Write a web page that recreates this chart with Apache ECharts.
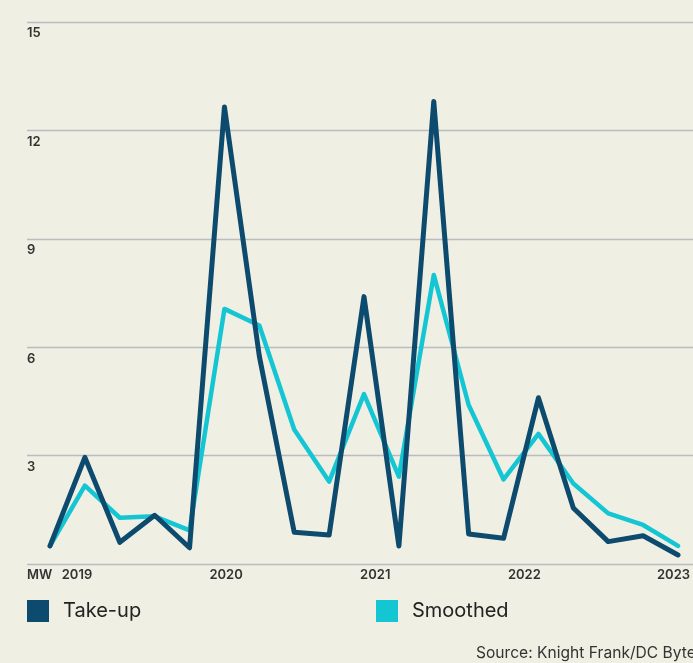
<!DOCTYPE html>
<html>
<head>
<meta charset="utf-8">
<style>
  html, body { margin: 0; padding: 0; background: #f0efe3; }
  #chart { width: 693px; height: 663px; }
</style>
<script src="https://cdn.jsdelivr.net/npm/echarts@6/dist/echarts.min.js"></script>
</head>
<body>
<div id="chart"></div>
<script>
// Quarterly data-centre take-up (MW)
const quarters = [
  '2019 Q1', '2019 Q2', '2019 Q3', '2019 Q4',
  '2020 Q1', '2020 Q2', '2020 Q3', '2020 Q4',
  '2021 Q1', '2021 Q2', '2021 Q3', '2021 Q4',
  '2022 Q1', '2022 Q2', '2022 Q3', '2022 Q4',
  '2023 Q1', '2023 Q2', '2023 Q3'
];
const takeUp = [0.5, 2.95, 0.6, 1.35, 0.45, 12.65, 5.75, 0.88, 0.8, 7.4, 0.5, 12.8, 0.83, 0.71, 4.6, 1.55, 0.62, 0.78, 0.25];
const smoothed = [0.5, 2.17, 1.28, 1.32, 0.93, 7.06, 6.6, 3.72, 2.28, 4.7, 2.42, 8.0, 4.4, 2.34, 3.6, 2.23, 1.4, 1.08, 0.5];
const yearTicks = [2019, 2020, 2021, 2022, 2023];
const yTicks = [0, 3, 6, 9, 12, 15];
const unitLabel = 'MW';
const sourceText = 'Source: Knight Frank/DC Bytes';

const NAVY = '#0c4a6e';
const CYAN = '#14c6d3';
const FONT = 'Inter, "Liberation Sans", sans-serif';
const TXT = '#333333';

const chart = echarts.init(document.getElementById('chart'), null, { renderer: 'canvas' });

chart.setOption({
  animation: false,
  backgroundColor: '#f0efe3',
  textStyle: { fontFamily: FONT },
  title: {
    text: sourceText,
    left: 476,
    top: 645,
    padding: 0,
    textStyle: { fontFamily: FONT, fontSize: 15.6, fontWeight: 400, color: TXT }
  },
  legend: [
    {
      data: ['Take-up'],
      left: 27, top: 600, padding: 0,
      icon: 'rect', itemWidth: 22, itemHeight: 22,
      textStyle: { fontFamily: FONT, fontSize: 20, color: '#222', padding: [0, 0, 0, 9] }
    },
    {
      data: ['Smoothed'],
      left: 376, top: 600, padding: 0,
      icon: 'rect', itemWidth: 22, itemHeight: 22,
      textStyle: { fontFamily: FONT, fontSize: 20, color: '#222', padding: [0, 0, 0, 9] }
    }
  ],
  grid: [
    // value gridlines and labels
    { left: 27, right: 0, top: 22, bottom: 99 },
    // plotted series
    { left: 50, right: 15, top: 22, bottom: 99 },
    // year labels
    { left: 77, right: 16, top: 22, bottom: 99 }
  ],
  xAxis: [
    { gridIndex: 0, type: 'value', min: 0, max: 1, show: false },
    { gridIndex: 1, type: 'category', data: quarters, boundaryGap: false, show: false },
    {
      gridIndex: 2, type: 'value', min: yearTicks[0], max: yearTicks[yearTicks.length - 1], interval: 1,
      axisLine: { show: false }, axisTick: { show: false }, splitLine: { show: false },
      axisLabel: {
        margin: 5, fontFamily: FONT, fontSize: 13, fontWeight: 600, color: TXT,
        formatter: v => String(v)
      }
    }
  ],
  yAxis: [
    {
      gridIndex: 0, type: 'value', min: yTicks[0], max: yTicks[yTicks.length - 1], interval: 3,
      axisLine: { show: false }, axisTick: { show: false },
      splitLine: { show: true, lineStyle: { color: '#b8bbbf', width: 1.3 } },
      axisLabel: {
        inside: true, margin: 0, verticalAlign: 'top', padding: [5, 0, 0, 0],
        fontFamily: FONT, fontSize: 13, fontWeight: 600, color: TXT,
        formatter: v => (v === 0 ? unitLabel : String(v))
      }
    },
    { gridIndex: 1, type: 'value', min: yTicks[0], max: yTicks[yTicks.length - 1], show: false },
    { gridIndex: 2, type: 'value', min: 0, max: 1, show: false }
  ],
  series: [
    {
      name: 'Smoothed', type: 'line', xAxisIndex: 1, yAxisIndex: 1,
      data: smoothed, showSymbol: false, symbol: 'none',
      itemStyle: { color: CYAN },
      lineStyle: { color: CYAN, width: 4.5, join: 'round', cap: 'round' },
      z: 2
    },
    {
      name: 'Take-up', type: 'line', xAxisIndex: 1, yAxisIndex: 1,
      data: takeUp, showSymbol: false, symbol: 'none',
      itemStyle: { color: NAVY },
      lineStyle: { color: NAVY, width: 5, join: 'round', cap: 'round' },
      z: 3
    }
  ]
});
</script>
</body>
</html>
